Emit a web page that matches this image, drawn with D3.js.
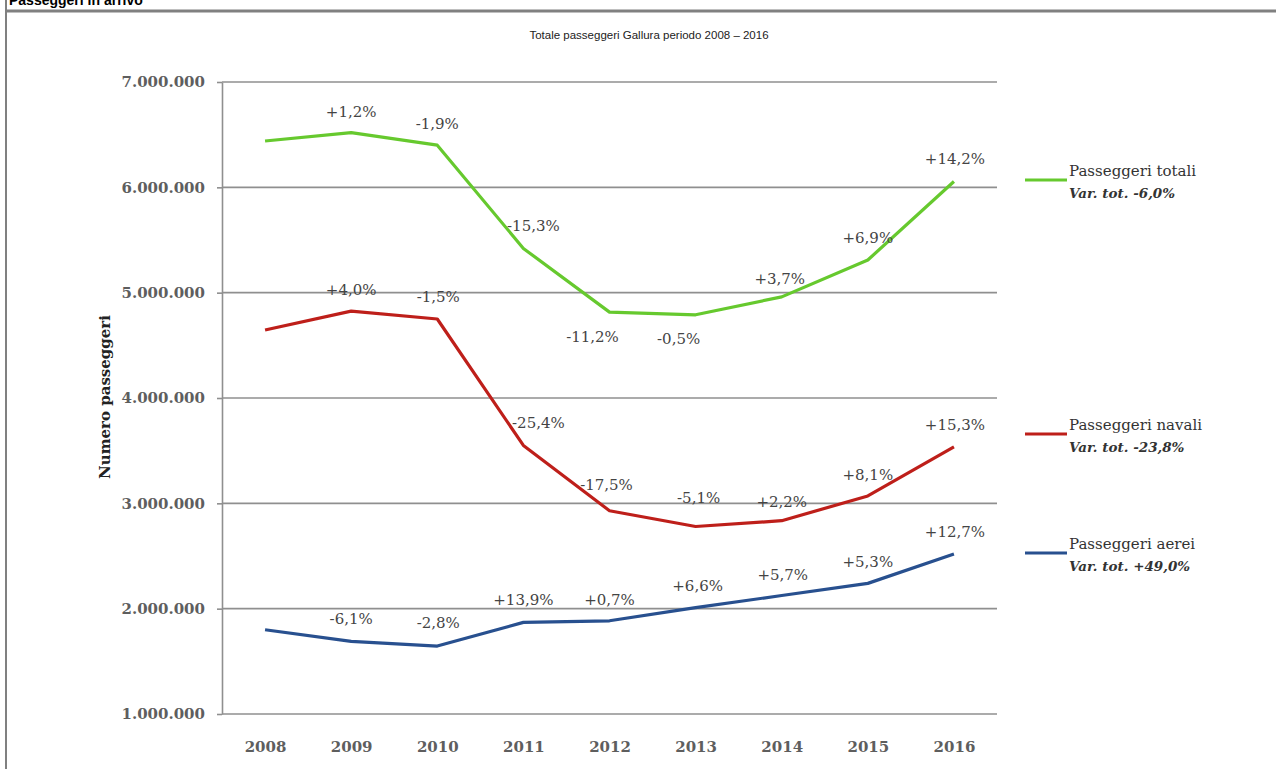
<!DOCTYPE html>
<html>
<head>
<meta charset="utf-8">
<script src="https://cdn.jsdelivr.net/npm/d3@7"></script>
<style>
  body { margin: 0; background: #fff; }
</style>
</head>
<body>
<script>
var years = [2008, 2009, 2010, 2011, 2012, 2013, 2014, 2015, 2016];

var totali = [6440000, 6520000, 6400000, 5420000, 4815000, 4790000, 4960000, 5310000, 6055000];
var navali = [4645000, 4825000, 4750000, 3550000, 2930000, 2780000, 2835000, 3070000, 3535000];
var aerei  = [1800000, 1690000, 1645000, 1870000, 1885000, 2010000, 2125000, 2240000, 2520000];

var totaliVar = ["+1,2%", "-1,9%", "-15,3%", "-11,2%", "-0,5%", "+3,7%", "+6,9%", "+14,2%"];
var navaliVar = ["+4,0%", "-1,5%", "-25,4%", "-17,5%", "-5,1%", "+2,2%", "+8,1%", "+15,3%"];
var aereiVar  = ["-6,1%", "-2,8%", "+13,9%", "+0,7%", "+6,6%", "+5,7%", "+5,3%", "+12,7%"];

var seriesNames = ["Passeggeri totali", "Passeggeri navali", "Passeggeri aerei"];
var seriesTotVar = ["Var. tot. -6,0%", "Var. tot. -23,8%", "Var. tot. +49,0%"];
var yTicks = [1000000, 2000000, 3000000, 4000000, 5000000, 6000000, 7000000];

// label nudges (px) relative to each point, from 2009 on
var totaliDx = [0, 0, 10, -17, -17, -2, 0, 1];
var totaliDy = [-16, -16, -17, 30, 29, -13, -17, -18];
var navaliDx = [0, 1, 15, -3, 3, 0, 0, 1];
var navaliDy = [-16, -17, -17, -21, -24, -14, -16, -17];
var aereiDx  = [0, 1, 0, 0, 2, 1, 0, 1];
var aereiDy  = [-17, -18, -17, -16, -17, -16, -16, -17];

var series = [
  { name: seriesNames[0], tot: seriesTotVar[0], values: totali, vars: totaliVar, dx: totaliDx, dy: totaliDy, color: "#66c92e", legendY: 180 },
  { name: seriesNames[1], tot: seriesTotVar[1], values: navali, vars: navaliVar, dx: navaliDx, dy: navaliDy, color: "#be1f1a", legendY: 434 },
  { name: seriesNames[2], tot: seriesTotVar[2], values: aerei,  vars: aereiVar,  dx: aereiDx,  dy: aereiDy,  color: "#28508f", legendY: 553 }
];

var serif = "'DejaVu Serif', serif";
var itLocale = d3.formatLocale({ decimal: ",", thousands: ".", grouping: [3], currency: ["", " €"] });
var fmt = itLocale.format(",");

var svg = d3.select("body").append("svg")
  .attr("width", 1276)
  .attr("height", 769);

// frame of the page
svg.append("line")
  .attr("x1", 6).attr("x2", 6).attr("y1", 0).attr("y2", 769)
  .attr("stroke", "#808080").attr("stroke-width", 2);
svg.append("line")
  .attr("x1", 6).attr("x2", 1276).attr("y1", 11).attr("y2", 11)
  .attr("stroke", "#808080").attr("stroke-width", 3);
svg.append("text")
  .attr("x", 9).attr("y", 5)
  .attr("font-family", "'Liberation Sans', Arial, sans-serif")
  .attr("font-weight", "bold")
  .attr("font-size", 14)
  .attr("fill", "#000")
  .text("Passeggeri in arrivo");

svg.append("text")
  .attr("x", 649).attr("y", 39)
  .attr("text-anchor", "middle")
  .attr("font-family", "'Liberation Sans', Arial, sans-serif")
  .attr("font-size", 11.5)
  .attr("fill", "#222")
  .text("Totale passeggeri Gallura periodo 2008 \u2013 2016");

var x = d3.scalePoint()
  .domain(years)
  .range([222, 997])
  .padding(0.5);

var y = d3.scaleLinear()
  .domain([1000000, 7000000])
  .range([714, 82]);

// gridlines
svg.append("g").selectAll("line")
  .data(yTicks)
  .enter()
  .append("line")
  .attr("x1", 222).attr("x2", 997)
  .attr("y1", function(d) { return y(d); })
  .attr("y2", function(d) { return y(d); })
  .attr("stroke", "#8f8f8f")
  .attr("stroke-width", 1.6);

var yAxis = svg.append("g")
  .attr("transform", "translate(222,0)")
  .call(d3.axisLeft(y).tickValues(yTicks).tickSize(5).tickSizeOuter(0).tickPadding(12).tickFormat(fmt));
yAxis.select(".domain").attr("stroke", "#8f8f8f").attr("stroke-width", 1.6);
yAxis.selectAll(".tick line").attr("stroke", "#8f8f8f").attr("stroke-width", 1.6);
yAxis.selectAll("text")
  .attr("font-family", serif)
  .attr("font-weight", "bold")
  .attr("font-size", 15)
  .attr("fill", "#5e5e5e");

var xAxis = svg.append("g")
  .attr("transform", "translate(0,714)")
  .call(d3.axisBottom(x).tickSize(0).tickPadding(27));
xAxis.select(".domain").remove();
xAxis.selectAll("text")
  .attr("font-family", serif)
  .attr("font-weight", "bold")
  .attr("font-size", 15)
  .attr("fill", "#5e5e5e");

svg.append("text")
  .attr("transform", "translate(110,397) rotate(-90)")
  .attr("text-anchor", "middle")
  .attr("font-family", serif)
  .attr("font-weight", "bold")
  .attr("font-size", 15)
  .attr("fill", "#222")
  .text("Numero passeggeri");

var line = d3.line()
  .x(function(d, i) { return x(years[i]); })
  .y(function(d) { return y(d); });

var groups = svg.selectAll(".serie")
  .data(series)
  .enter()
  .append("g")
  .attr("class", "serie");

groups.append("path")
  .attr("d", function(d) { return line(d.values); })
  .attr("fill", "none")
  .attr("stroke", function(d) { return d.color; })
  .attr("stroke-width", 3.2)
  .attr("stroke-linejoin", "round");

groups.selectAll(".var")
  .data(function(s) {
    return s.vars.map(function(v, i) {
      return { label: v, year: years[i + 1], value: s.values[i + 1], dx: s.dx[i], dy: s.dy[i] };
    });
  })
  .enter()
  .append("text")
  .attr("class", "var")
  .attr("x", function(d) { return x(d.year) + d.dx; })
  .attr("y", function(d) { return y(d.value) + d.dy; })
  .attr("text-anchor", "middle")
  .attr("font-family", serif)
  .attr("font-size", 15)
  .attr("fill", "#444")
  .text(function(d) { return d.label; });

// legend
groups.append("line")
  .attr("x1", 1025).attr("x2", 1067)
  .attr("y1", function(d) { return d.legendY; })
  .attr("y2", function(d) { return d.legendY; })
  .attr("stroke", function(d) { return d.color; })
  .attr("stroke-width", 3.2);
groups.append("text")
  .attr("x", 1069)
  .attr("y", function(d) { return d.legendY - 4; })
  .attr("font-family", serif)
  .attr("font-size", 15)
  .attr("fill", "#333")
  .text(function(d) { return d.name; });
groups.append("text")
  .attr("x", 1069)
  .attr("y", function(d) { return d.legendY + 18; })
  .attr("font-family", serif)
  .attr("font-weight", "bold")
  .attr("font-style", "italic")
  .attr("font-size", 13.5)
  .attr("fill", "#333")
  .text(function(d) { return d.tot; });
</script>
</body>
</html>
